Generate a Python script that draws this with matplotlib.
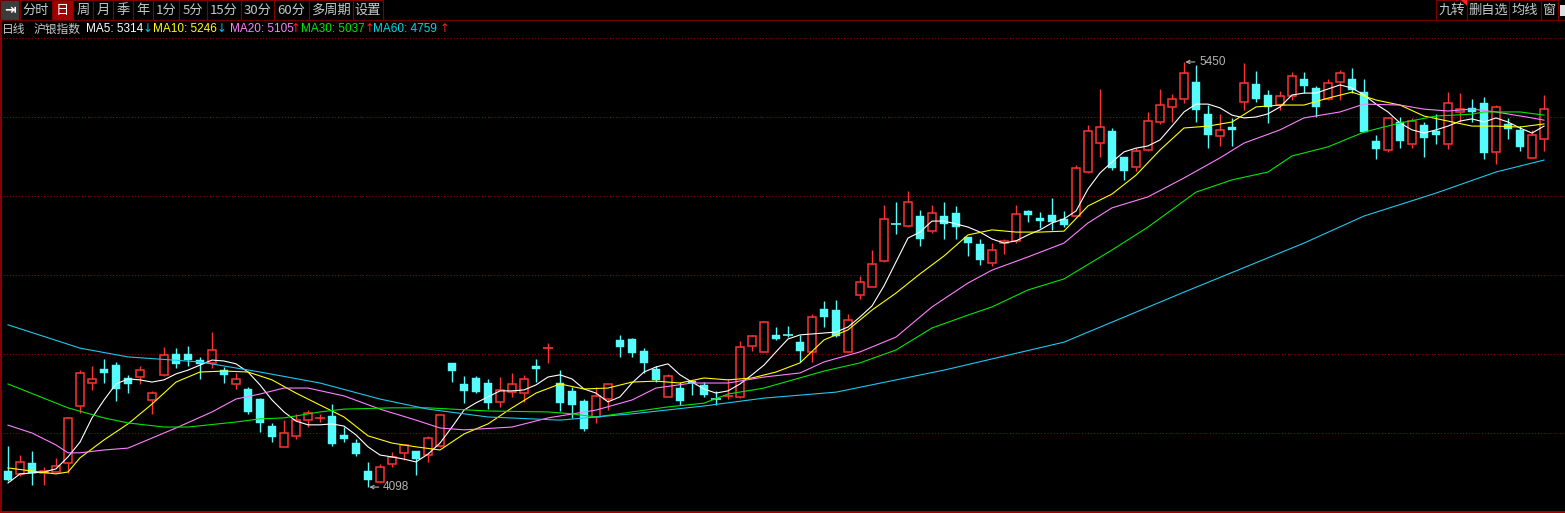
import matplotlib.pyplot as plt
import numpy as np
from matplotlib.patches import Rectangle
from matplotlib.lines import Line2D

plt.rcParams['font.family'] = ['Noto Sans CJK SC', 'DejaVu Sans']

# daily candles
opens = [4149, 4140, 4175, 4143, 4146, 4175, 4356, 4429, 4474, 4486,
         4445, 4448, 4375, 4455, 4521, 4521, 4502, 4493, 4470, 4426,
         4410, 4378, 4292, 4226, 4261, 4311, 4316, 4324, 4264, 4238,
         4149, 4114, 4172, 4207, 4213, 4200, 4229, 4493, 4426, 4445,
         4429, 4369, 4400, 4397, 4483, 4539, 4429, 4404, 4372, 4321,
         4378, 4566, 4569, 4531, 4474, 4385, 4413, 4435, 4423, 4378,
         4385, 4385, 4547, 4528, 4582, 4582, 4559, 4528, 4664, 4661,
         4528, 4709, 4734, 4817, 4936, 4928, 4960, 4912, 4960, 4970,
         4893, 4871, 4811, 4874, 4881, 4976, 4954, 4963, 4951, 4960,
         5100, 5192, 5230, 5148, 5116, 5170, 5259, 5307, 5332, 5386,
         5285, 5215, 5243, 5323, 5380, 5345, 5313, 5342, 5396, 5367,
         5332, 5386, 5396, 5354, 5199, 5170, 5259, 5189, 5249, 5230,
         5189, 5291, 5304, 5320, 5164, 5253, 5234, 5145, 5205]
highs = [4229, 4200, 4213, 4162, 4191, 4321, 4470, 4483, 4505, 4496,
         4455, 4483, 4404, 4544, 4540, 4547, 4512, 4591, 4480, 4461,
         4416, 4381, 4302, 4311, 4331, 4343, 4331, 4362, 4289, 4251,
         4178, 4172, 4210, 4232, 4213, 4261, 4327, 4493, 4451, 4451,
         4442, 4448, 4461, 4455, 4505, 4556, 4470, 4416, 4378, 4416,
         4426, 4582, 4572, 4540, 4483, 4458, 4432, 4435, 4432, 4404,
         4442, 4563, 4582, 4626, 4607, 4610, 4582, 4648, 4690, 4693,
         4648, 4769, 4852, 4995, 5005, 5040, 4979, 4995, 5005, 4992,
         4893, 4887, 4874, 4887, 4995, 4979, 4973, 5017, 4976, 5122,
         5249, 5364, 5240, 5148, 5176, 5291, 5364, 5348, 5450, 5440,
         5313, 5285, 5272, 5447, 5421, 5361, 5358, 5418, 5418, 5374,
         5396, 5424, 5431, 5396, 5218, 5275, 5275, 5272, 5259, 5285,
         5354, 5351, 5332, 5339, 5313, 5272, 5246, 5234, 5345]
lows = [4117, 4133, 4105, 4105, 4143, 4143, 4334, 4407, 4429, 4372,
        4397, 4426, 4331, 4451, 4477, 4483, 4442, 4477, 4429, 4410,
        4331, 4273, 4241, 4226, 4251, 4289, 4305, 4229, 4241, 4197,
        4098, 4110, 4162, 4184, 4137, 4178, 4226, 4432, 4365, 4397,
        4346, 4353, 4385, 4369, 4432, 4493, 4340, 4318, 4276, 4302,
        4343, 4512, 4512, 4461, 4432, 4385, 4359, 4391, 4385, 4359,
        4378, 4381, 4531, 4528, 4566, 4575, 4496, 4496, 4607, 4575,
        4528, 4696, 4734, 4814, 4903, 4925, 4865, 4906, 4887, 4887,
        4833, 4804, 4801, 4839, 4874, 4941, 4922, 4916, 4925, 4960,
        5097, 5148, 5106, 5075, 5103, 5167, 5253, 5259, 5320, 5259,
        5176, 5183, 5183, 5297, 5323, 5256, 5297, 5329, 5351, 5275,
        5329, 5329, 5351, 5227, 5141, 5164, 5176, 5176, 5148, 5189,
        5173, 5259, 5259, 5141, 5126, 5205, 5167, 5145, 5167]
closes = [4121, 4178, 4143, 4149, 4165, 4318, 4461, 4442, 4461, 4410,
          4426, 4470, 4397, 4518, 4490, 4502, 4490, 4534, 4455, 4442,
          4337, 4302, 4257, 4270, 4311, 4334, 4318, 4235, 4251, 4203,
          4121, 4162, 4194, 4232, 4187, 4254, 4327, 4467, 4404, 4400,
          4365, 4407, 4426, 4442, 4474, 4540, 4365, 4359, 4283, 4388,
          4426, 4544, 4524, 4493, 4439, 4451, 4372, 4429, 4391, 4375,
          4388, 4544, 4579, 4623, 4569, 4579, 4531, 4639, 4639, 4579,
          4629, 4750, 4807, 4951, 4934, 5005, 4887, 4970, 4935, 4925,
          4874, 4820, 4852, 4881, 4967, 4963, 4944, 4941, 4931, 5113,
          5230, 5243, 5113, 5103, 5167, 5262, 5313, 5332, 5415, 5297,
          5218, 5234, 5234, 5383, 5332, 5307, 5342, 5405, 5374, 5307,
          5383, 5415, 5361, 5227, 5173, 5272, 5199, 5262, 5208, 5218,
          5320, 5300, 5291, 5161, 5307, 5237, 5180, 5218, 5300]

# moving averages, read at every bar (MA5) or at sample bars
ma5 = [4111, 4140, 4143, 4146, 4156, 4194, 4241, 4318, 4375, 4426,
       4442, 4439, 4432, 4439, 4458, 4470, 4486, 4502, 4499, 4490,
       4464, 4423, 4375, 4337, 4308, 4296, 4296, 4299, 4292, 4264,
       4226, 4200, 4194, 4187, 4178, 4203, 4238, 4289, 4343, 4366,
       4385, 4404, 4404, 4407, 4423, 4448, 4455, 4442, 4410, 4397,
       4369, 4385, 4429, 4464, 4480, 4490, 4455, 4432, 4410, 4397,
       4404, 4426, 4455, 4486, 4528, 4569, 4582, 4585, 4588, 4591,
       4607, 4639, 4674, 4738, 4814, 4890, 4909, 4944, 4944, 4935,
       4925, 4909, 4887, 4874, 4881, 4900, 4916, 4938, 4951, 4976,
       5046, 5097, 5132, 5164, 5176, 5183, 5202, 5246, 5291, 5316,
       5316, 5304, 5281, 5272, 5275, 5285, 5307, 5345, 5351, 5351,
       5364, 5377, 5367, 5345, 5316, 5291, 5256, 5234, 5224, 5234,
       5246, 5262, 5269, 5259, 5272, 5259, 5240, 5224, 5246]

ma10_x = [0, 2, 4, 5, 6, 8, 10, 12, 14, 16, 18, 20, 22, 24, 26, 28, 30, 32,
          34, 36, 38, 40, 42, 44, 46, 48, 50, 52, 54, 56, 58, 60, 62, 64, 66,
          68, 70, 72, 74, 76, 78, 80, 82, 84, 86, 88, 90, 92, 94, 96, 98, 100,
          102, 104, 106, 108, 110, 112, 114, 116, 118, 120, 122, 124, 126, 128]
ma10 = [4159, 4149, 4140, 4146, 4191, 4248, 4299, 4362, 4432, 4464, 4467,
        4464, 4439, 4397, 4359, 4321, 4261, 4238, 4226, 4216, 4267, 4299,
        4350, 4397, 4426, 4410, 4413, 4432, 4435, 4429, 4445, 4439, 4445,
        4464, 4493, 4566, 4598, 4661, 4715, 4776, 4833, 4900, 4916, 4909,
        4909, 4912, 4992, 5030, 5090, 5170, 5240, 5246, 5259, 5307, 5313,
        5313, 5335, 5354, 5329, 5313, 5278, 5262, 5246, 5246, 5243, 5253]

ma20_x = [0, 2, 4, 5, 6, 8, 10, 12, 14, 17, 19, 21, 23, 25, 28, 31, 34, 36,
          38, 42, 45, 49, 52, 54, 57, 60, 63, 66, 68, 71, 74, 77, 80, 82, 85,
          88, 90, 92, 95, 98, 101, 103, 106, 108, 111, 113, 116, 118, 120,
          122, 124, 127, 128]
ma20 = [4295, 4270, 4232, 4207, 4207, 4216, 4222, 4254, 4286, 4337, 4378,
        4394, 4413, 4413, 4388, 4346, 4311, 4286, 4280, 4289, 4318, 4343,
        4375, 4413, 4429, 4429, 4448, 4461, 4496, 4528, 4575, 4671, 4747,
        4788, 4830, 4874, 4938, 4986, 5021, 5081, 5145, 5192, 5234, 5272,
        5291, 5316, 5313, 5300, 5294, 5300, 5291, 5272, 5265]

ma30_x = [0, 5, 8, 10, 13, 15, 19, 21, 23, 26, 28, 32, 35, 40, 45, 47, 49,
          52, 55, 58, 60, 63, 68, 71, 74, 77, 80, 82, 85, 88, 92, 95, 99, 102,
          105, 107, 110, 113, 116, 119, 122, 123, 126, 128]
ma30 = [4426, 4350, 4318, 4302, 4289, 4289, 4305, 4315, 4318, 4337, 4346,
        4350, 4350, 4340, 4337, 4331, 4321, 4337, 4353, 4365, 4394, 4413,
        4467, 4493, 4534, 4604, 4645, 4671, 4725, 4760, 4852, 4925, 5036,
        5075, 5100, 5151, 5180, 5227, 5256, 5278, 5284, 5291, 5291, 5281]

ma60_x = [0, 6, 10, 16, 21, 26, 31, 35, 40, 46, 52, 58, 63, 69, 78, 88, 98,
          108, 113, 119, 124, 128]
ma60 = [4614, 4540, 4512, 4496, 4464, 4429, 4378, 4346, 4321, 4311, 4331,
        4356, 4381, 4400, 4470, 4559, 4718, 4874, 4960, 5033, 5100, 5138]

periods = ['分时', '日', '周', '月', '季', '年', '1分', '5分', '15分', '30分',
           '60分', '多周期', '设置']
right_buttons = ['九转', '删自选', '均线', '窗']
legend_items = [('MA5: 5314', '↓'), ('MA10: 5246', '↓'), ('MA20: 5105', '↑'),
                ('MA30: 5037', '↑'), ('MA60: 4759', '↑')]

W, H = 1565, 513
RED = '#ff3232'
CYAN = '#54fcfc'
GRID = '#990000'
FRAME = '#a00000'
TXT = '#c8c8c8'
ma_colors = ['#ffffff', '#ffff00', '#ff80ff', '#00e600', '#1ec8ec']

fig = plt.figure(figsize=(W / 100, H / 100), dpi=100, facecolor='black')


def fx(px):
    return px / W


def fy(py):
    return 1 - py / H


# price panel: pixel rows 38..512
ax = fig.add_axes([0, fy(512), 1, fy(38) - fy(512)])
ax.set_facecolor('black')
ax.set_xlim(-8 / 12, (W - 8) / 12)
ax.set_ylim(4018.8, 5526.2)
ax.set_xticks([])
ax.set_yticks([])
for s in ax.spines.values():
    s.set_visible(False)

for gy in np.linspace(4018.8, 5526.2, 7)[1:]:
    ax.axhline(gy, color=GRID, lw=0.75, ls=(0, (1, 2)), clip_on=False, zorder=1)

n = len(closes)
for i in range(n):
    o, h, l, c = opens[i], highs[i], lows[i], closes[i]
    if c >= o:
        top, bot = c, o
        if top - bot < 4:
            ax.vlines(i, l, h, color=RED, lw=1, zorder=2)
            ax.hlines(top, i - 0.38, i + 0.38, color=RED, lw=1.2, zorder=2)
        else:
            ax.vlines(i, top, h, color=RED, lw=1, zorder=2)
            ax.vlines(i, l, bot, color=RED, lw=1, zorder=2)
            ax.add_patch(Rectangle((i - 0.34, bot), 0.68, top - bot, fill=False,
                                   ec=RED, lw=1.1, zorder=2))
    else:
        ax.vlines(i, l, h, color=CYAN, lw=1, zorder=2)
        if o - c < 4:
            ax.hlines(o, i - 0.38, i + 0.38, color=CYAN, lw=1.2, zorder=2)
        else:
            ax.add_patch(Rectangle((i - 0.37, c), 0.74, o - c, fc=CYAN, ec=CYAN,
                                   lw=0.3, zorder=2))

ax.plot(range(n), ma5, color=ma_colors[0], lw=0.8, zorder=3)
ax.plot(ma10_x, ma10, color=ma_colors[1], lw=0.8, zorder=3)
ax.plot(ma20_x, ma20, color=ma_colors[2], lw=0.8, zorder=3)
ax.plot(ma30_x, ma30, color=ma_colors[3], lw=0.8, zorder=3)
ax.plot(ma60_x, ma60, color=ma_colors[4], lw=0.8, zorder=3)

# highest / lowest marks
hi = int(np.argmax(highs))
lo = int(np.argmin(lows))
for idx, val in [(hi, highs[hi]), (lo, lows[lo])]:
    ax.annotate(f'{val}', xy=(idx, val), xytext=(15, 0), textcoords='offset pixels',
                ha='left', va='center', color='#b4b4b4', fontsize=8.5,
                family=['Liberation Sans', 'DejaVu Sans'],
                arrowprops=dict(arrowstyle='->', color='#b4b4b4', lw=0.8,
                                shrinkA=1, shrinkB=1, mutation_scale=6))

# frame lines
fig.add_artist(Line2D([fx(1), fx(1)], [fy(20), fy(512)], color=FRAME, lw=1.2))
fig.add_artist(Line2D([0, 1], [fy(511.5), fy(511.5)], color=FRAME, lw=1.5))
fig.add_artist(Line2D([0, 1], [fy(20), fy(20)], color='#700000', lw=0.8))

# toolbar
bx = [20, 52, 73, 93, 113, 133, 153, 179, 207, 241, 274, 309, 353, 383]
fig.add_artist(Rectangle((fx(0), fy(20)), fx(19), fy(0) - fy(20), fc='#3c3c3c',
                         ec='#700000', lw=0.8, transform=fig.transFigure))
fig.text(fx(9.5), fy(10), '⇥', color='white', fontsize=10, ha='center',
         va='center', family='DejaVu Sans', weight='bold')
for k, lab in enumerate(periods):
    x0, x1 = bx[k], bx[k + 1]
    sel = lab == '日'
    fig.add_artist(Rectangle((fx(x0), fy(20)), fx(x1 - x0), fy(0) - fy(20),
                             fc='#a00000' if sel else 'black', ec='#800000', lw=0.8,
                             transform=fig.transFigure))
    fig.text(fx((x0 + x1) / 2), fy(10.5), lab, color='white' if sel else TXT,
             fontsize=9.5, ha='center', va='center')

rx = [1436, 1467, 1509, 1541, 1558]
for k, lab in enumerate(right_buttons):
    x0, x1 = rx[k], rx[k + 1]
    fig.add_artist(Rectangle((fx(x0), fy(20)), fx(x1 - x0), fy(0) - fy(20),
                             fc='black', ec='#800000', lw=0.8,
                             transform=fig.transFigure))
    fig.text(fx((x0 + x1) / 2), fy(10.5), lab, color=TXT, fontsize=9.5,
             ha='center', va='center')
fig.add_artist(plt.Polygon([[fx(1461), fy(0)], [fx(1467), fy(0)], [fx(1467), fy(6)]],
                           closed=True, fc='#ff2020', ec='none',
                           transform=fig.transFigure))
fig.add_artist(Rectangle((fx(1560), fy(16)), fx(5), fy(5) - fy(16), fc='#e0e0e0',
                         ec='none', transform=fig.transFigure))

# legend row
fig.text(fx(2), fy(29), '日线', color=TXT, fontsize=8.5, ha='left', va='center')
fig.text(fx(34), fy(29), '沪银指数', color=TXT, fontsize=8.5, ha='left', va='center')
lx = [86, 153, 230, 301, 373]
ax_arrow = [143, 217, 291, 365, 440]
leg_colors = ['#ffffff', '#ffff00', '#ff80ff', '#00e600', '#00d8e8']
for k, (lab, arr) in enumerate(legend_items):
    fig.text(fx(lx[k]), fy(29), lab, color=leg_colors[k], fontsize=8.5,
             ha='left', va='center', family=['Liberation Sans', 'DejaVu Sans'])
    fig.text(fx(ax_arrow[k]), fy(29), arr, color='#00c0d0' if arr == '↓' else '#ff2020',
             fontsize=8.5, ha='left', va='center', family='DejaVu Sans')

fig.savefig('out.png', dpi=100, facecolor='black')
